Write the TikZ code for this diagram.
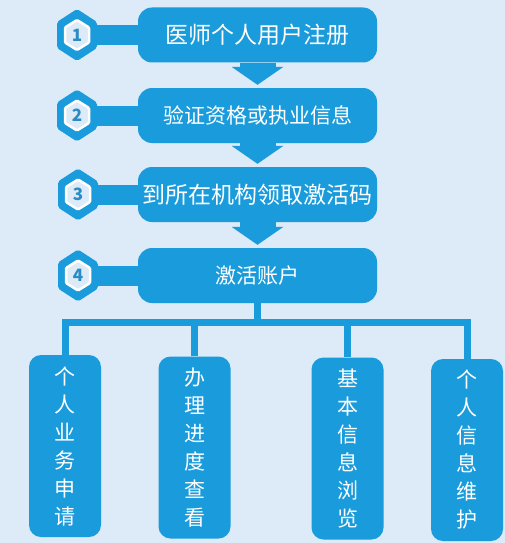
\documentclass[tikz,border=0pt]{standalone}
\usepackage{fontspec}
\setmainfont{Noto Sans CJK SC}
\usepackage{tikz}
\usetikzlibrary{arrows.meta}
\usetikzlibrary{positioning,shapes.geometric}
\definecolor{flowblue}{HTML}{1A9BDB}
\definecolor{paleblue}{HTML}{DCEBF7}
\definecolor{numblue}{HTML}{2B8CC4}

\begin{document}
\begin{tikzpicture}[x=1pt,y=-1pt,
		hexouter/.style={fill=flowblue,rounded corners=2pt},
		hexinner/.style={draw=white,line width=2.5pt,fill=paleblue,rounded corners=1pt}]
		\fill[paleblue] (0,0) rectangle (505,543);
		\useasboundingbox (0,0) rectangle (505,543);

		\begin{scope}[every node/.style={rectangle,rounded corners=14pt,fill=flowblue,text=white,minimum width=239pt,minimum height=55pt,inner sep=0pt}]
			\node (s1) at (257.5,35) {\fontsize{23}{23}\selectfont 医师个人用户注册};
			\node (s2) at (257.5,115.5) {\fontsize{21}{21}\selectfont 验证资格或执业信息};
			\node (s3) at (257.5,194.5) {\fontsize{23}{23}\selectfont 到所在机构领取激活码};
			\node (s4) at (257.5,275.5) {\fontsize{21}{21}\selectfont 激活账户};
		\end{scope}

		\coordinate (h1) at (77,35);
		\coordinate (h2) at (77,115.5);
		\coordinate (h3) at (78,194.5);
		\coordinate (h4) at (78,275.5);

		% bands from the hexagons to the steps
		\begin{scope}[flowblue,line width=20pt]
			\path (h1) edge (s1);
			\path (h2) edge (s2);
			\path (h3) edge (s3);
			\path (h4) edge (s4);
		\end{scope}

		\fill[hexouter] (h1) ++(0,-26) -- ++(20,13) -- ++(0,26) -- ++(-20,13) -- ++(-20,-13) -- ++(0,-26) -- cycle;
		\fill[hexouter] (h2) ++(0,-26) -- ++(20,13) -- ++(0,26) -- ++(-20,13) -- ++(-20,-13) -- ++(0,-26) -- cycle;
		\fill[hexouter] (h3) ++(0,-26) -- ++(20,13) -- ++(0,26) -- ++(-20,13) -- ++(-20,-13) -- ++(0,-26) -- cycle;
		\fill[hexouter] (h4) ++(0,-26) -- ++(20,13) -- ++(0,26) -- ++(-20,13) -- ++(-20,-13) -- ++(0,-26) -- cycle;
		\draw[hexinner] (h1) ++(0,-15) -- ++(12,7.5) -- ++(0,15) -- ++(-12,7.5) -- ++(-12,-7.5) -- ++(0,-15) -- cycle;
		\draw[hexinner] (h2) ++(0,-15) -- ++(12,7.5) -- ++(0,15) -- ++(-12,7.5) -- ++(-12,-7.5) -- ++(0,-15) -- cycle;
		\draw[hexinner] (h3) ++(0,-15) -- ++(12,7.5) -- ++(0,15) -- ++(-12,7.5) -- ++(-12,-7.5) -- ++(0,-15) -- cycle;
		\draw[hexinner] (h4) ++(0,-15) -- ++(12,7.5) -- ++(0,15) -- ++(-12,7.5) -- ++(-12,-7.5) -- ++(0,-15) -- cycle;

		\begin{scope}[every node/.style={text=numblue,inner sep=0pt,font=\fontsize{17}{17}\selectfont\bfseries}]
			\node (n1) at (h1) {1};
			\node (n2) at (h2) {2};
			\node (n3) at (h3) {3};
			\node (n4) at (h4) {4};
		\end{scope}

		\begin{scope}[every node/.style={rectangle,rounded corners=12pt,fill=flowblue,text=white,minimum width=72pt,minimum height=182pt,inner sep=0pt,align=center,font=\fontsize{21}{28}\selectfont}]
			\node (b1) at (65,446) {个\\人\\业\\务\\申\\请};
			\node (b2) at (194.5,447.5) {办\\理\\进\\度\\查\\看};
			\node (b3) at (347.5,448.5) {基\\本\\信\\息\\浏\\览};
			\node (b4) at (467,450) {个\\人\\信\\息\\维\\护};
		\end{scope}

		\coordinate (bus) at (257.5,322);

		\begin{scope}[flowblue,line width=36pt,>={Triangle[width=52pt,length=18pt,line width=0pt]},shorten >=3pt]
			\path[->] (s1) edge (s2);
			\path[->] (s2) edge (s3);
			\path[->] (s3) edge (s4);
		\end{scope}

		\begin{scope}[flowblue,line width=7pt]
			\draw (s4) -- (bus);
			\draw (bus) -| (b1);
			\draw (bus) -| (b2);
			\draw (bus) -| (b3);
			\draw (bus) -| (b4);
		\end{scope}
	\end{tikzpicture}
\end{document}
